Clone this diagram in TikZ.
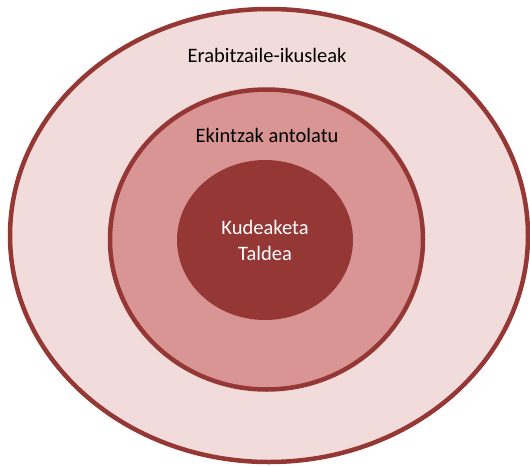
\documentclass[tikz,border=0pt]{standalone}
\usepackage{fontspec}
\setmainfont{Carlito}
\definecolor{rim}{HTML}{953735}
\definecolor{pale}{HTML}{F2DCDB}
\definecolor{rose}{HTML}{D99594}
\tikzset{ring/.style={draw=rim,line width=4.5pt},
         lbl/.style={font=\fontsize{20.5}{26}\selectfont,align=center}}
\begin{document}
\begin{tikzpicture}[x=1pt,y=-1pt]
      \useasboundingbox(0,0)rectangle(530,466);
      \filldraw[ring,fill=pale](269,235.5)ellipse[x radius=259,y radius=226.5];
      \filldraw[ring,fill=rose](266.5,239.5)ellipse[x radius=156.5,y radius=150];
      \fill[rim](265,240)ellipse[x radius=88,y radius=80];
      \node[lbl](users)at(267,55){Erabitzaile-ikusleak};
      \node[lbl](events)at(267,135){Ekintzak antolatu};
      \node[lbl,text=white](team)at(265,240){Kudeaketa\\Taldea};
    \end{tikzpicture}
\end{document}
